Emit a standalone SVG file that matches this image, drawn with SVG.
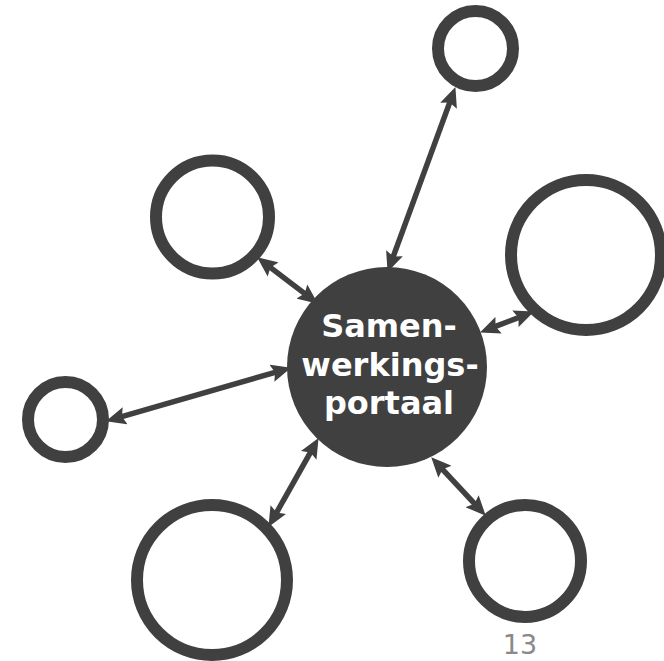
<svg xmlns="http://www.w3.org/2000/svg" width="664" height="661" viewBox="0 0 664 661">
<style>
.ring{fill:none;stroke:#404040;stroke-width:12}
.hub{fill:#404040}
.lbl{font-family:"DejaVu Sans",Verdana,sans-serif;font-weight:bold;font-size:32px;fill:#ffffff;text-anchor:middle}
.conn{stroke:#404040;stroke-width:5.5;fill:none;marker-start:url(#ah);marker-end:url(#ah)}
.pg{font-family:"DejaVu Sans",Verdana,sans-serif;font-size:27px;fill:#898989;text-anchor:middle}
</style>
<defs>
<marker id="ah" markerUnits="userSpaceOnUse" markerWidth="20" markerHeight="18" refX="8" refY="8" orient="auto-start-reverse" viewBox="0 0 18 16">
<path d="M0,0 L18,8 L0,16 L3,8 Z" fill="#404040"/>
</marker>
</defs>
<rect width="664" height="661" fill="#ffffff"/>
<g id="connectors">
<line class="conn" x1="451.6" y1="97.4" x2="391.4" y2="261.6"/>
<line class="conn" x1="266.0" y1="264.1" x2="309.0" y2="296.9"/>
<line class="conn" x1="490.3" y1="328.4" x2="523.7" y2="315.6"/>
<line class="conn" x1="116.6" y1="418.2" x2="280.4" y2="370.8"/>
<line class="conn" x1="313.1" y1="447.7" x2="273.9" y2="517.3"/>
<line class="conn" x1="438.8" y1="465.3" x2="478.2" y2="507.7"/>
</g>
<g id="node-top"><circle class="ring" cx="475.5" cy="48.5" r="37.5"/></g>
<g id="node-upper-left"><circle class="ring" cx="212.5" cy="217" r="56.5"/></g>
<g id="node-right"><circle class="ring" cx="586" cy="255" r="75"/></g>
<g id="node-left"><circle class="ring" cx="65.5" cy="419.5" r="37.5"/></g>
<g id="node-bottom-left"><circle class="ring" cx="212" cy="580" r="75"/></g>
<g id="node-bottom-right"><circle class="ring" cx="525" cy="561" r="56"/></g>
<g id="node-center">
<circle class="hub" cx="387" cy="367" r="100"/>
<text class="lbl" x="389" y="337">Samen-</text>
<text class="lbl" x="390" y="376">werkings-</text>
<text class="lbl" x="389" y="414">portaal</text>
</g>
<text class="pg" x="520" y="654">13</text>
</svg>
